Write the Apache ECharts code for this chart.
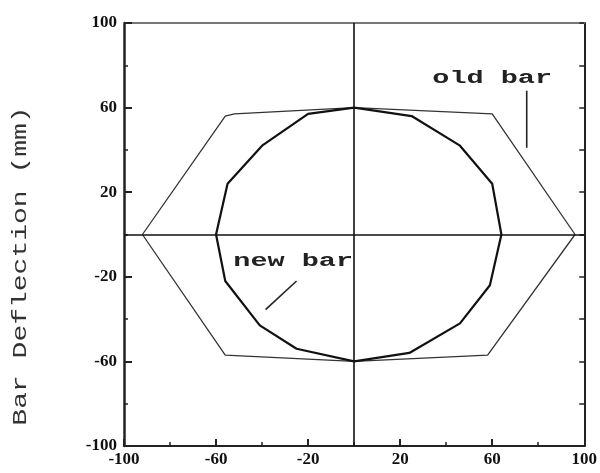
<!DOCTYPE html>
<html>
<head>
<meta charset="utf-8">
<script src="https://cdn.jsdelivr.net/npm/echarts@6/dist/echarts.min.js"></script>
<style>html,body{margin:0;padding:0;background:#fff}#c{width:600px;height:473px}</style>
</head>
<body>
<div id="c"></div>
<script>
// ---- data ----
const xMajorTicks = [-100, -60, -20, 20, 60, 100];
const xMinorTicks = [-80, -40, 0, 40, 80];
const yMajorTicks = [-100, -60, -20, 20, 60, 100];
const yMinorTicks = [-80, -40, 0, 40, 80];

const oldBarX = [-92, -56, -52, 0, 60, 96, 58, 0, -56, -92];
const oldBarY = [0, 56, 57, 60, 57, 0, -57, -60, -57, 0];

const newBarX = [0, -20, -40, -55, -60, -56, -41, -25, 0, 24, 46, 59, 64, 60, 46, 25, 0];
const newBarY = [60, 57, 42, 24, 0, -22, -43, -54, -60, -56, -42, -24, 0, 24, 42, 56, 60];

const oldLeaderX = [75, 75];
const oldLeaderY = [68, 41];
const newLeaderX = [-25, -38.5];
const newLeaderY = [-22, -35.5];

const yTitle = 'Bar Deflection (mm)';
const oldLabel = 'old bar';
const newLabel = 'new bar';
const oldLabelPos = [60, 74];
const newLabelPos = [-26.5, -12.5];

function pairs(xs, ys) { return xs.map((x, i) => [x, ys[i]]); }

const chart = echarts.init(document.getElementById('c'), null, { renderer: 'canvas' });
const labelFont = { fontFamily: 'Liberation Serif', fontWeight: 'bold', fontSize: 17, color: '#111' };

const option = {
  backgroundColor: '#fff',
  animation: false,
  grid: { left: 124, right: 8, top: 23, bottom: 27 },
  xAxis: [
    { type: 'value', min: -100, max: 100, position: 'bottom',
      axisLine: { show: true, onZero: false, lineStyle: { color: '#222', width: 2 } },
      axisTick: { show: true, inside: true, length: 7, customValues: xMajorTicks, lineStyle: { color: '#222', width: 2 } },
      axisLabel: Object.assign({ show: true, margin: 5, customValues: xMajorTicks }, labelFont),
      splitLine: { show: false } },
    { type: 'value', min: -100, max: 100, position: 'bottom', gridIndex: 0,
      axisLine: { show: false, onZero: false },
      axisTick: { show: true, inside: true, length: 4, customValues: xMinorTicks, lineStyle: { color: '#222', width: 1.5 } },
      axisLabel: { show: false }, splitLine: { show: false } },
    { type: 'value', min: -100, max: 100, position: 'top', gridIndex: 0,
      axisLine: { show: true, onZero: false, lineStyle: { color: '#777', width: 2 } },
      axisTick: { show: false }, axisLabel: { show: false }, splitLine: { show: false } }
  ],
  yAxis: [
    { type: 'value', min: -100, max: 100, position: 'left',
      axisLine: { show: true, onZero: false, lineStyle: { color: '#222', width: 2.5 } },
      axisTick: { show: true, inside: true, length: 8, customValues: yMajorTicks, lineStyle: { color: '#222', width: 2 } },
      axisLabel: Object.assign({ show: true, margin: 7, customValues: yMajorTicks }, labelFont),
      splitLine: { show: false } },
    { type: 'value', min: -100, max: 100, position: 'left', gridIndex: 0,
      axisLine: { show: false, onZero: false },
      axisTick: { show: true, inside: true, length: 4, customValues: yMinorTicks, lineStyle: { color: '#222', width: 1.5 } },
      axisLabel: { show: false }, splitLine: { show: false } },
    { type: 'value', min: -100, max: 100, position: 'right', gridIndex: 0,
      axisLine: { show: true, onZero: false, lineStyle: { color: '#222', width: 2 } },
      axisTick: { show: true, inside: true, length: 5, customValues: yMajorTicks.concat(yMinorTicks), lineStyle: { color: '#222', width: 1.5 } },
      axisLabel: { show: false }, splitLine: { show: false } }
  ],
  series: [
    { name: 'old bar', type: 'line', xAxisIndex: 0, yAxisIndex: 0, data: pairs(oldBarX, oldBarY),
      showSymbol: false, smooth: false, lineStyle: { color: '#333', width: 1.3 },
      markLine: { silent: true, symbol: 'none', label: { show: false },
        lineStyle: { color: '#111', width: 1.6, type: 'solid' },
        data: [{ xAxis: 0 }, { yAxis: 0 }] } },
    { name: 'new bar', type: 'line', xAxisIndex: 0, yAxisIndex: 0, data: pairs(newBarX, newBarY),
      showSymbol: false, smooth: false, lineStyle: { color: '#111', width: 2.2 } },
    { name: 'old leader', type: 'line', xAxisIndex: 0, yAxisIndex: 0, data: pairs(oldLeaderX, oldLeaderY),
      showSymbol: false, lineStyle: { color: '#222', width: 1.6 } },
    { name: 'new leader', type: 'line', xAxisIndex: 0, yAxisIndex: 0, data: pairs(newLeaderX, newLeaderY),
      showSymbol: false, lineStyle: { color: '#222', width: 1.6 } }
  ]
};
chart.setOption(option);

const pOld = chart.convertToPixel({ gridIndex: 0 }, oldLabelPos);
const pNew = chart.convertToPixel({ gridIndex: 0 }, newLabelPos);
const annFont = { fontFamily: 'Liberation Mono', fontWeight: 'bold', fontSize: 19, fill: '#222', align: 'center', verticalAlign: 'middle' };
chart.setOption({
  graphic: [
    { type: 'text', x: 21, y: 266, rotation: Math.PI / 2, scaleX: 1.4,
      style: Object.assign({ text: yTitle }, annFont, { fontSize: 20, fontWeight: 'normal', fill: '#333' }) },
    { type: 'text', x: pOld[0], y: pOld[1], scaleX: 1.5,
      style: Object.assign({ text: oldLabel }, annFont) },
    { type: 'text', x: pNew[0], y: pNew[1], scaleX: 1.5,
      style: Object.assign({ text: newLabel }, annFont) }
  ]
});
</script>
</body>
</html>
